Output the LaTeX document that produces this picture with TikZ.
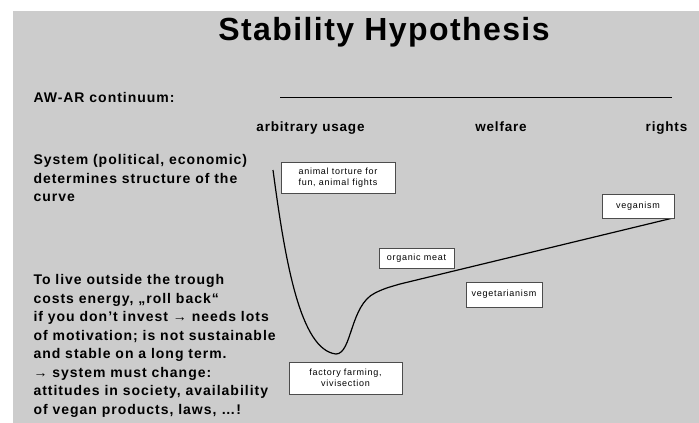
\documentclass[tikz,border=0pt]{standalone}
\usepackage{fontspec}
\setmainfont{Liberation Sans}
\newfontfamily\titlefont[LetterSpace=4.4]{Liberation Sans}
\newfontfamily\slidefont[LetterSpace=7]{Liberation Sans}
\newfontfamily\labelfont[LetterSpace=6]{Liberation Sans}
\newfontfamily\boxfont[LetterSpace=8]{Liberation Sans}
\usetikzlibrary{positioning}
\definecolor{slidegray}{HTML}{CCCCCC}
\tikzset{
  stage/.style={draw=black!70, fill=white, line width=0.7pt, align=center, inner sep=1pt, font=\boxfont\fontsize{9}{10.5}\selectfont},
  bigtext/.style={anchor=west, align=left, font=\slidefont\bfseries\fontsize{14}{18.5}\selectfont}
}
\begin{document}
\begin{tikzpicture}[x=1pt, y=-1pt]
    \useasboundingbox (0,0) rectangle (699,423);
    % Background of the slide
    \fill[slidegray] (13,11) rectangle (699,423);

    % Title
    \node[anchor=base, font=\titlefont\bfseries\fontsize{32}{36}\selectfont] (title) at (384,40) {Stability Hypothesis};

    % Continuum with its three labels
    \node[bigtext, anchor=base west] (continuum) at (30,102) {AW-AR continuum:};
    \coordinate (lineL) at (280,97);
    \coordinate (lineR) at (672,97);
    \draw[line width=1pt] (lineL) -- (lineR);
    \foreach \x/\nome/\txt in {310.5/usage/arbitrary usage, 501/welfare/welfare, 666.5/rights/rights} {
        \node[anchor=base, font=\labelfont\bfseries\fontsize{13.5}{15}\selectfont] (\nome) at (\x,131) {\txt};
    }

    % Texts on the left
    \node[bigtext] (system) at (30,178) {System (political, economic)\\determines structure of the\\curve};
    \node[bigtext] (trough) at (30,346) {To live outside the trough\\costs energy, „roll back“\\if you don’t invest → needs lots\\of motivation; is not sustainable\\and stable on a long term.\\→ system must change:\\attitudes in society, availability\\of vegan products, laws, \dots!};

    % The curve
    \coordinate (top) at (273,170);
    \coordinate (bottom) at (336,354);
    \coordinate (knee) at (375,293);
    \coordinate (bend) at (400,284);
    \coordinate (end) at (673,218);
    \draw[line width=1.2pt] (top) .. controls (285,260) and (300,350) .. (bottom)
        .. controls (352,354) and (350,305) .. (knee)
        .. controls (385,288) and (390,287) .. (bend) -- (end);

    % Boxes along the curve
    \node[stage, minimum width=114pt, minimum height=31pt] (torture) at (338,177.5) {animal torture for\\fun, animal fights};
    \node[stage, minimum width=113pt, minimum height=32pt] (factory) at (345.5,378) {factory farming,\\vivisection};
    \node[stage, minimum width=75pt, minimum height=20pt] (organic) at (416.5,258) {organic meat};
    \node[stage, minimum width=76pt, minimum height=25pt] (vegetarian) at (504,294.5) {vegetarianism};
    \node[stage, minimum width=72pt, minimum height=24pt] (vegan) at (638,206) {veganism};
\end{tikzpicture}
\end{document}
